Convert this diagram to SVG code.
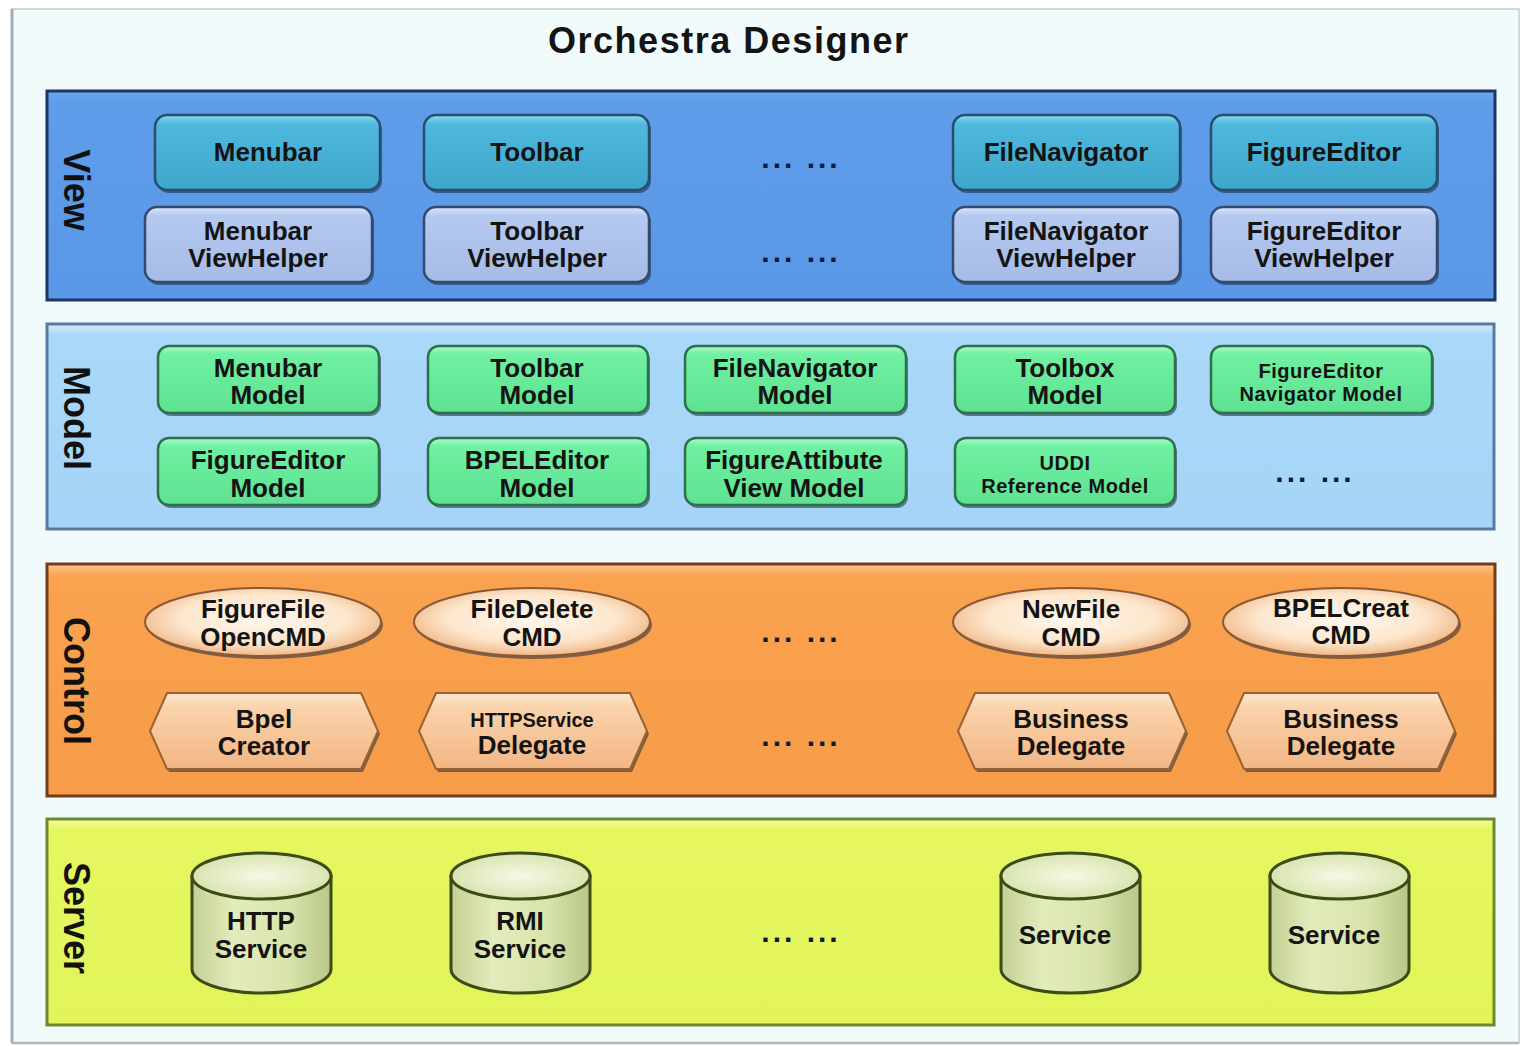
<svg xmlns="http://www.w3.org/2000/svg" width="1522" height="1046" viewBox="0 0 1522 1046">
<defs>
  <linearGradient id="gView" x1="0" y1="0" x2="0" y2="1">
    <stop offset="0" stop-color="#6ea8ee"/><stop offset="0.05" stop-color="#5f9ce9"/><stop offset="1" stop-color="#5a97e6"/>
  </linearGradient>
  <linearGradient id="gModel" x1="0" y1="0" x2="0" y2="1">
    <stop offset="0" stop-color="#d6eefc"/><stop offset="0.05" stop-color="#aad8f9"/><stop offset="1" stop-color="#a6d4f6"/>
  </linearGradient>
  <linearGradient id="gCtrl" x1="0" y1="0" x2="0" y2="1">
    <stop offset="0" stop-color="#fcc890"/><stop offset="0.05" stop-color="#f9a24f"/><stop offset="1" stop-color="#f79c48"/>
  </linearGradient>
  <linearGradient id="gServ" x1="0" y1="0" x2="0" y2="1">
    <stop offset="0" stop-color="#f6fca8"/><stop offset="0.05" stop-color="#e6f660"/><stop offset="1" stop-color="#e2f45a"/>
  </linearGradient>
  <linearGradient id="gTeal" x1="0" y1="0" x2="0" y2="1">
    <stop offset="0" stop-color="#8cdcf0"/><stop offset="0.12" stop-color="#4fb8dc"/><stop offset="1" stop-color="#3ea6cc"/>
  </linearGradient>
  <linearGradient id="gHelp" x1="0" y1="0" x2="0" y2="1">
    <stop offset="0" stop-color="#dce6fa"/><stop offset="0.12" stop-color="#b4c8f0"/><stop offset="1" stop-color="#a6bbe6"/>
  </linearGradient>
  <linearGradient id="gGreen" x1="0" y1="0" x2="0" y2="1">
    <stop offset="0" stop-color="#b2fad0"/><stop offset="0.12" stop-color="#70f0a2"/><stop offset="1" stop-color="#5ee292"/>
  </linearGradient>
  <radialGradient id="gEll" cx="0.5" cy="0.45" r="0.55">
    <stop offset="0" stop-color="#fff7ee"/><stop offset="0.65" stop-color="#fde6cc"/><stop offset="1" stop-color="#f0b888"/>
  </radialGradient>
  <linearGradient id="gHex" x1="0" y1="0" x2="0" y2="1">
    <stop offset="0" stop-color="#fee8d0"/><stop offset="0.2" stop-color="#fad2aa"/><stop offset="1" stop-color="#f3b684"/>
  </linearGradient>
  <linearGradient id="gCyl" x1="0" y1="0" x2="1" y2="0">
    <stop offset="0" stop-color="#c4d094"/><stop offset="0.3" stop-color="#e2ecbc"/><stop offset="0.7" stop-color="#d8e4aa"/><stop offset="1" stop-color="#b8c688"/>
  </linearGradient>
  <radialGradient id="gCylTop" cx="0.5" cy="0.5" r="0.55">
    <stop offset="0" stop-color="#f6f9e6"/><stop offset="1" stop-color="#d6e2aa"/>
  </radialGradient>
</defs>
<style>
  text { font-family: "Liberation Sans", Arial, sans-serif; font-weight: bold; fill: #141414; }
  .t { font-size: 26px; text-anchor: middle; }
  .ts { font-size: 20px; text-anchor: middle; }
  .lbl { font-size: 36px; text-anchor: middle; fill: #111; }
  .dots { font-size: 30px; text-anchor: middle; fill: #0b1a3c; letter-spacing: 3px; }
  .sh { fill: #1a2a44; opacity: 0.55; }
  .vn { fill: url(#gTeal); stroke: #24506e; stroke-width: 2.5; }
  .vh { fill: url(#gHelp); stroke: #34496e; stroke-width: 2.5; }
  .mn { fill: url(#gGreen); stroke: #2e7048; stroke-width: 2.5; }
  .el { fill: url(#gEll); stroke: #8a5a36; stroke-width: 2; }
  .hx { fill: url(#gHex); stroke: #9a6232; stroke-width: 2; }
  .cy { fill: url(#gCyl); stroke: #3c4c16; stroke-width: 3; }
  .cyt { fill: url(#gCylTop); stroke: #3c4c16; stroke-width: 3; }
</style>

<rect x="0" y="0" width="1522" height="1046" fill="#ffffff"/>
<rect x="12" y="9" width="1507" height="1034" fill="#f2fbfc" stroke="#c4cad0" stroke-width="1.5"/>
<line x1="12" y1="9" x2="12" y2="1043" stroke="#a6acb4" stroke-width="3"/>
<line x1="12" y1="1043" x2="1519" y2="1043" stroke="#b0b6bc" stroke-width="2.5"/>

<text x="728" y="53" font-size="36" text-anchor="middle" textLength="360" lengthAdjust="spacing" fill="#111">Orchestra Designer</text>

<!-- Layers -->
<g id="layer-view">
  <rect x="47" y="91" width="1448" height="209" fill="url(#gView)" stroke="#1d3563" stroke-width="3"/>
  <text class="lbl" transform="translate(77,190) rotate(90)" dy="0.36em">View</text>
</g>
<g id="layer-model">
  <rect x="47" y="324" width="1447" height="205" fill="url(#gModel)" stroke="#5a7aa4" stroke-width="3"/>
  <text class="lbl" transform="translate(77,418) rotate(90)" dy="0.36em">Model</text>
</g>
<g id="layer-control">
  <rect x="47" y="564" width="1448" height="232" fill="url(#gCtrl)" stroke="#6e3e1c" stroke-width="3"/>
  <text class="lbl" transform="translate(77,681) rotate(90)" dy="0.36em">Control</text>
</g>
<g id="layer-server">
  <rect x="47" y="819" width="1447" height="206" fill="url(#gServ)" stroke="#6a8a2c" stroke-width="3"/>
  <text class="lbl" transform="translate(77,918) rotate(90)" dy="0.36em">Server</text>
</g>

<!-- View nodes -->
<g id="menubar">
  <rect class="sh" x="157" y="118" width="225" height="75" rx="12"/>
  <rect class="vn" x="155" y="115" width="225" height="75" rx="12"/>
  <text class="t" x="268" y="161">Menubar</text>
</g>
<g id="toolbar">
  <rect class="sh" x="426" y="118" width="225" height="75" rx="12"/>
  <rect class="vn" x="424" y="115" width="225" height="75" rx="12"/>
  <text class="t" x="537" y="161">Toolbar</text>
</g>
<g id="view-dots-1"><text class="dots" x="801" y="168">... ...</text></g>
<g id="filenavigator">
  <rect class="sh" x="955" y="118" width="227" height="75" rx="12"/>
  <rect class="vn" x="953" y="115" width="227" height="75" rx="12"/>
  <text class="t" x="1066" y="161">FileNavigator</text>
</g>
<g id="figureeditor">
  <rect class="sh" x="1213" y="118" width="226" height="75" rx="12"/>
  <rect class="vn" x="1211" y="115" width="226" height="75" rx="12"/>
  <text class="t" x="1324" y="161">FigureEditor</text>
</g>

<g id="menubar-viewhelper">
  <rect class="sh" x="147" y="210" width="227" height="75" rx="12"/>
  <rect class="vh" x="145" y="207" width="227" height="75" rx="12"/>
  <text class="t" x="258" y="240">Menubar</text>
  <text class="t" x="258" y="267">ViewHelper</text>
</g>
<g id="toolbar-viewhelper">
  <rect class="sh" x="426" y="210" width="225" height="75" rx="12"/>
  <rect class="vh" x="424" y="207" width="225" height="75" rx="12"/>
  <text class="t" x="537" y="240">Toolbar</text>
  <text class="t" x="537" y="267">ViewHelper</text>
</g>
<g id="view-dots-2"><text class="dots" x="801" y="262">... ...</text></g>
<g id="filenavigator-viewhelper">
  <rect class="sh" x="955" y="210" width="227" height="75" rx="12"/>
  <rect class="vh" x="953" y="207" width="227" height="75" rx="12"/>
  <text class="t" x="1066" y="240">FileNavigator</text>
  <text class="t" x="1066" y="267">ViewHelper</text>
</g>
<g id="figureeditor-viewhelper">
  <rect class="sh" x="1213" y="210" width="226" height="75" rx="12"/>
  <rect class="vh" x="1211" y="207" width="226" height="75" rx="12"/>
  <text class="t" x="1324" y="240">FigureEditor</text>
  <text class="t" x="1324" y="267">ViewHelper</text>
</g>

<!-- Model nodes -->
<g id="menubar-model">
  <rect class="sh" x="160" y="349" width="221" height="67" rx="11"/>
  <rect class="mn" x="158" y="346" width="221" height="67" rx="11"/>
  <text class="t" x="268" y="377">Menubar</text>
  <text class="t" x="268" y="404">Model</text>
</g>
<g id="toolbar-model">
  <rect class="sh" x="430" y="349" width="220" height="67" rx="11"/>
  <rect class="mn" x="428" y="346" width="220" height="67" rx="11"/>
  <text class="t" x="537" y="377">Toolbar</text>
  <text class="t" x="537" y="404">Model</text>
</g>
<g id="filenavigator-model">
  <rect class="sh" x="687" y="349" width="221" height="67" rx="11"/>
  <rect class="mn" x="685" y="346" width="221" height="67" rx="11"/>
  <text class="t" x="795" y="377">FileNavigator</text>
  <text class="t" x="795" y="404">Model</text>
</g>
<g id="toolbox-model">
  <rect class="sh" x="957" y="349" width="220" height="67" rx="11"/>
  <rect class="mn" x="955" y="346" width="220" height="67" rx="11"/>
  <text class="t" x="1065" y="377">Toolbox</text>
  <text class="t" x="1065" y="404">Model</text>
</g>
<g id="figureeditor-navigator-model">
  <rect class="sh" x="1213" y="349" width="221" height="67" rx="11"/>
  <rect class="mn" x="1211" y="346" width="221" height="67" rx="11"/>
  <text class="ts" x="1321" y="378" letter-spacing="0.5">FigureEditor</text>
  <text class="ts" x="1321" y="401" letter-spacing="0.5">Navigator Model</text>
</g>

<g id="figureeditor-model">
  <rect class="sh" x="160" y="441" width="221" height="67" rx="11"/>
  <rect class="mn" x="158" y="438" width="221" height="67" rx="11"/>
  <text class="t" x="268" y="469">FigureEditor</text>
  <text class="t" x="268" y="497">Model</text>
</g>
<g id="bpeleditor-model">
  <rect class="sh" x="430" y="441" width="220" height="67" rx="11"/>
  <rect class="mn" x="428" y="438" width="220" height="67" rx="11"/>
  <text class="t" x="537" y="469">BPELEditor</text>
  <text class="t" x="537" y="497">Model</text>
</g>
<g id="figureattibute-view-model">
  <rect class="sh" x="687" y="441" width="221" height="67" rx="11"/>
  <rect class="mn" x="685" y="438" width="221" height="67" rx="11"/>
  <text class="t" x="794" y="469">FigureAttibute</text>
  <text class="t" x="794" y="497">View Model</text>
</g>
<g id="uddi-reference-model">
  <rect class="sh" x="957" y="441" width="220" height="67" rx="11"/>
  <rect class="mn" x="955" y="438" width="220" height="67" rx="11"/>
  <text class="ts" x="1065" y="470" letter-spacing="0.5">UDDI</text>
  <text class="ts" x="1065" y="493" letter-spacing="0.5">Reference Model</text>
</g>
<g id="model-dots"><text class="dots" x="1315" y="482">... ...</text></g>

<!-- Control nodes -->
<g id="figurefile-opencmd">
  <ellipse cx="265" cy="625" rx="118" ry="34" class="sh"/>
  <ellipse cx="263" cy="622" rx="118" ry="34" class="el"/>
  <text class="t" x="263" y="618">FigureFile</text>
  <text class="t" x="263" y="646">OpenCMD</text>
</g>
<g id="filedelete-cmd">
  <ellipse cx="534" cy="625" rx="118" ry="34" class="sh"/>
  <ellipse cx="532" cy="622" rx="118" ry="34" class="el"/>
  <text class="t" x="532" y="618">FileDelete</text>
  <text class="t" x="532" y="646">CMD</text>
</g>
<g id="control-dots-1"><text class="dots" x="801" y="642">... ...</text></g>
<g id="newfile-cmd">
  <ellipse cx="1073" cy="625" rx="118" ry="34" class="sh"/>
  <ellipse cx="1071" cy="622" rx="118" ry="34" class="el"/>
  <text class="t" x="1071" y="618">NewFile</text>
  <text class="t" x="1071" y="646">CMD</text>
</g>
<g id="bpelcreat-cmd">
  <ellipse cx="1343" cy="625" rx="118" ry="34" class="sh"/>
  <ellipse cx="1341" cy="622" rx="118" ry="34" class="el"/>
  <text class="t" x="1341" y="617">BPELCreat</text>
  <text class="t" x="1341" y="644">CMD</text>
</g>

<g id="bpel-creator">
  <polygon class="sh" points="152,734 169,696 363,696 380,734 363,772 169,772"/>
  <polygon class="hx" points="150,731 167,693 361,693 378,731 361,769 167,769"/>
  <text class="t" x="264" y="728">Bpel</text>
  <text class="t" x="264" y="755">Creator</text>
</g>
<g id="httpservice-delegate">
  <polygon class="sh" points="421,734 438,696 632,696 649,734 632,772 438,772"/>
  <polygon class="hx" points="419,731 436,693 630,693 647,731 630,769 436,769"/>
  <text class="ts" x="532" y="727">HTTPService</text>
  <text class="t" x="532" y="754">Delegate</text>
</g>
<g id="control-dots-2"><text class="dots" x="801" y="746">... ...</text></g>
<g id="business-delegate-1">
  <polygon class="sh" points="960,734 977,696 1171,696 1188,734 1171,772 977,772"/>
  <polygon class="hx" points="958,731 975,693 1169,693 1186,731 1169,769 975,769"/>
  <text class="t" x="1071" y="728">Business</text>
  <text class="t" x="1071" y="755">Delegate</text>
</g>
<g id="business-delegate-2">
  <polygon class="sh" points="1229,734 1246,696 1440,696 1457,734 1440,772 1246,772"/>
  <polygon class="hx" points="1227,731 1244,693 1438,693 1455,731 1438,769 1244,769"/>
  <text class="t" x="1341" y="728">Business</text>
  <text class="t" x="1341" y="755">Delegate</text>
</g>

<!-- Server nodes -->
<g id="http-service">
  <path class="cy" d="M192,876 L192,969 A69.5,24 0 0 0 331,969 L331,876 Z"/>
  <ellipse class="cyt" cx="261.5" cy="876" rx="69.5" ry="23"/>
  <text class="t" x="261" y="930">HTTP</text>
  <text class="t" x="261" y="958">Service</text>
</g>
<g id="rmi-service">
  <path class="cy" d="M451,876 L451,969 A69.5,24 0 0 0 590,969 L590,876 Z"/>
  <ellipse class="cyt" cx="520.5" cy="876" rx="69.5" ry="23"/>
  <text class="t" x="520" y="930">RMI</text>
  <text class="t" x="520" y="958">Service</text>
</g>
<g id="server-dots"><text class="dots" x="801" y="942">... ...</text></g>
<g id="service-1">
  <path class="cy" d="M1001,876 L1001,969 A69.5,24 0 0 0 1140,969 L1140,876 Z"/>
  <ellipse class="cyt" cx="1070.5" cy="876" rx="69.5" ry="23"/>
  <text class="t" x="1065" y="944">Service</text>
</g>
<g id="service-2">
  <path class="cy" d="M1270,876 L1270,969 A69.5,24 0 0 0 1409,969 L1409,876 Z"/>
  <ellipse class="cyt" cx="1339.5" cy="876" rx="69.5" ry="23"/>
  <text class="t" x="1334" y="944">Service</text>
</g>

<g id="connectors"></g>
</svg>
